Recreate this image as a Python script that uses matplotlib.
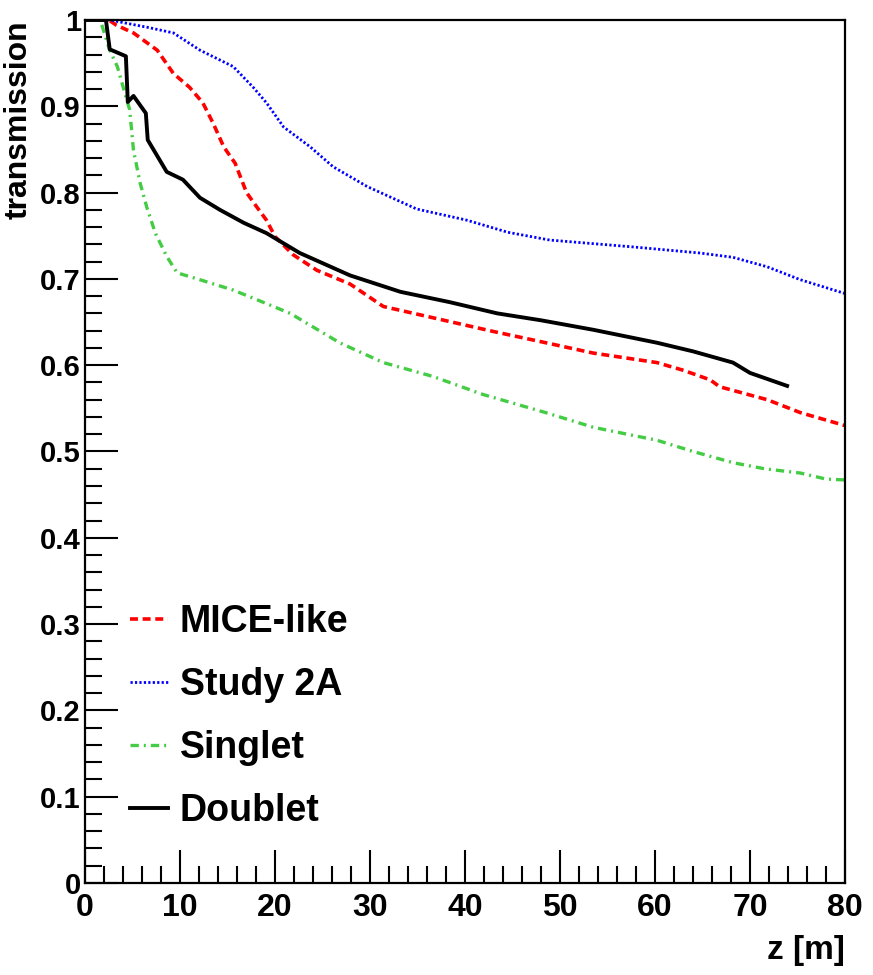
import matplotlib
matplotlib.use("Agg")
import matplotlib.pyplot as plt
from matplotlib.ticker import MultipleLocator

# transmission vs z
z_mice = [0, 2.5, 3.3, 5.1, 7.6, 9.3, 11, 12.4, 13.5, 14.6, 15.8, 17, 18.1, 19.1, 20, 21.9,
          24.4, 27.9, 31.4, 36.6, 43, 48.5, 53.5, 60.2, 63, 65.8, 66.8, 71.8, 75.3, 80]
t_mice = [1, 1, 0.994, 0.985, 0.965, 0.938, 0.922, 0.904, 0.880, 0.853, 0.834, 0.800, 0.783,
          0.768, 0.749, 0.728, 0.710, 0.694, 0.668, 0.655, 0.639, 0.626, 0.614, 0.603, 0.594,
          0.583, 0.575, 0.560, 0.545, 0.530]

z_2a = [0, 2.6, 6.8, 9.3, 12.1, 15.6, 17.7, 19.1, 20.9, 23.7, 26.1, 29.7, 34.9, 40.2, 44.5,
        48.9, 57.7, 64.7, 68.2, 71.8, 75.3, 80]
t_2a = [1, 1, 0.991, 0.985, 0.965, 0.946, 0.922, 0.904, 0.876, 0.853, 0.830, 0.807, 0.781,
        0.768, 0.754, 0.745, 0.737, 0.730, 0.725, 0.714, 0.699, 0.683]

z_singlet = [0, 1.6, 2.6, 3.4, 4.2, 4.7, 5.1, 5.8, 6.5, 7.4, 8.6, 9.7, 12.1, 15.6, 17.4, 21.6,
             26.8, 31.4, 36.6, 41.9, 48.5, 53.5, 60.2, 64, 68.2, 71.5, 75.3, 78, 80]
t_singlet = [1, 1, 0.965, 0.946, 0.915, 0.896, 0.849, 0.811, 0.783, 0.753, 0.726, 0.707,
             0.699, 0.687, 0.679, 0.660, 0.626, 0.603, 0.587, 0.566, 0.545, 0.528, 0.513,
             0.500, 0.487, 0.480, 0.475, 0.468, 0.467]

z_doublet = [0, 2.2, 2.6, 4.3, 4.5, 5.1, 6.4, 6.6, 8.6, 10.3, 12.1, 14.2, 16.7, 19.1, 22.6,
             27.9, 33.2, 38.4, 43.4, 48, 53.5, 60.2, 64, 68.2, 70, 73.9]
t_doublet = [1, 1, 0.966, 0.958, 0.905, 0.912, 0.892, 0.861, 0.824, 0.815, 0.794, 0.780,
             0.765, 0.753, 0.730, 0.704, 0.685, 0.673, 0.660, 0.652, 0.641, 0.626, 0.616,
             0.603, 0.591, 0.576]

plt.rcParams["font.family"] = ["Liberation Sans", "DejaVu Sans"]
plt.rcParams["font.weight"] = "bold"

fig = plt.figure(figsize=(8.73, 9.75), dpi=100)
ax = fig.add_axes([0.0974, 0.0944, 0.8706, 0.8851])

ax.plot(z_mice, t_mice, color="#ff0000", lw=2.6, ls=(0, (2.2, 1.3)), label="MICE-like")
ax.plot(z_2a, t_2a, color="#0000ff", lw=2.0, ls=(0, (0.8, 0.8)), label="Study 2A")
ax.plot(z_singlet, t_singlet, color="#44cc44", lw=2.4, ls=(0, (2.5, 1.5, 0.6, 1.5)), label="Singlet")
ax.plot(z_doublet, t_doublet, color="black", lw=2.8, label="Doublet")

ax.set_xlim(0, 80)
ax.set_ylim(0, 1)
ax.xaxis.set_major_locator(MultipleLocator(10))
ax.xaxis.set_minor_locator(MultipleLocator(2))
ax.yaxis.set_minor_locator(MultipleLocator(0.02))
ax.set_yticks([0, 0.1, 0.2, 0.3, 0.4, 0.5, 0.6, 0.7, 0.8, 0.9, 1])
ax.set_yticklabels(["0", "0.1", "0.2", "0.3", "0.4", "0.5", "0.6", "0.7", "0.8", "0.9", "1"])
ax.tick_params(which="major", direction="in", length=24, width=1.5)
ax.tick_params(axis="y", pad=3, labelsize=21)
ax.tick_params(axis="x", pad=7, labelsize=23)
ax.tick_params(which="minor", direction="in", length=12, width=1.5)
ax.tick_params(top=False, right=False)
for s in ax.spines.values():
    s.set_linewidth(1.6)

ax.set_ylabel("transmission", fontsize=23, fontweight="bold")
ax.yaxis.set_label_coords(-0.087, 1.0)
ax.yaxis.label.set_horizontalalignment("right")
ax.yaxis.label.set_verticalalignment("center")
ax.set_xlabel("z [m]", fontsize=24, fontweight="bold")
ax.xaxis.set_label_coords(1.0, -0.06)
ax.xaxis.label.set_horizontalalignment("right")

leg = ax.legend(loc="upper left", bbox_to_anchor=(0.035, 0.345), frameon=False, borderpad=0,
                fontsize=27, handlelength=1.0, handletextpad=0.32, labelspacing=0.72)

fig.savefig("out.png", dpi=100)
